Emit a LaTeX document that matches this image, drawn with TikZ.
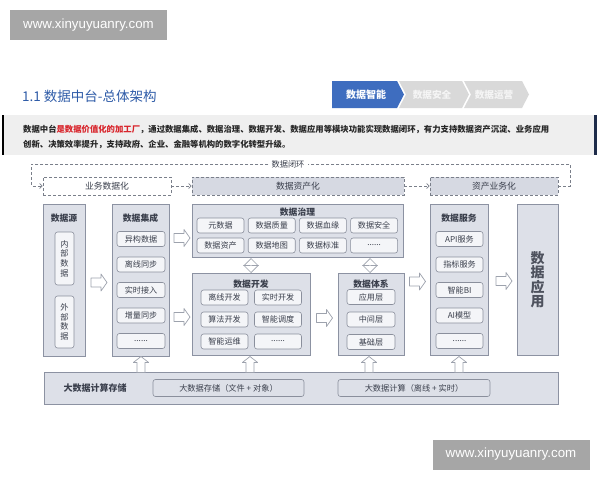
\documentclass[tikz,border=0pt]{standalone}
\usepackage{fontspec}
\setmainfont{Noto Sans CJK SC}
\newfontfamily\wmfont{Liberation Sans}
\usetikzlibrary{shapes.arrows,fit,calc,arrows.meta}

\definecolor{panelfill}{HTML}{DDE0E8}
\definecolor{headfill}{HTML}{D6D9E2}
\definecolor{panelline}{HTML}{8C92A2}
\definecolor{itemfill}{HTML}{F4F5F8}
\definecolor{itemline}{HTML}{8A8F9C}
\definecolor{textgray}{HTML}{3A3F4C}
\definecolor{dashgray}{HTML}{7A7F8A}
\definecolor{arrowline}{HTML}{9DA2AD}
\definecolor{wmgray}{HTML}{A6A6A6}
\definecolor{chevblue}{HTML}{3E6DBF}
\definecolor{chevgray}{HTML}{D9D9D9}
\definecolor{titleblue}{HTML}{2F5CA8}
\definecolor{descbg}{HTML}{EFEFEF}
\definecolor{navybar}{HTML}{1E2C4A}
\definecolor{redtext}{HTML}{D8232A}

\newcommand{\moredots}{......}

\begin{document}
\begin{tikzpicture}[
        x=1pt, y=-1pt,
        >={Straight Barb[length=2.5pt,width=5pt]},
        panel/.style={draw=panelline, fill=panelfill, line width=0.8pt, inner sep=0pt},
        headbox/.style={draw=dashgray, line width=0.8pt, dash pattern=on 3pt off 2pt, inner sep=0pt},
        loopline/.style={draw=dashgray, line width=0.7pt, dash pattern=on 3pt off 2pt},
        item/.style={draw=itemline, fill=itemfill, rounded corners=2.5pt, line width=0.6pt,
            minimum width=47pt, minimum height=15pt, inner sep=0pt,
            font=\fontsize{8.1}{9}\selectfont, text=textgray},
        ptitle/.style={font=\fontsize{8.8}{10}\selectfont\bfseries, text=textgray, inner sep=0pt},
        htitle/.style={font=\fontsize{8.8}{10}\selectfont, text=textgray, inner sep=0pt},
        fatarr/.pic={
            \draw[arrowline, fill=white, line width=0.7pt, line join=round]
                (-8,-4.5) -- (2,-4.5) -- (2,-8.5) -- (8,0) -- (2,8.5) -- (2,4.5) -- (-8,4.5) -- cycle;
        },
        updown/.style={double arrow, draw=arrowline, fill=white, line width=0.7pt,
            shape border rotate=90, minimum height=14pt, minimum width=14pt,
            double arrow head extend=3pt, inner sep=0pt},
        wmbox/.style={fill=wmgray, text=white, minimum width=157pt, minimum height=30pt,
            inner sep=0pt, font=\wmfont\fontsize{13.3}{15}\selectfont},
    ]

    \fill[white] (0,0) rectangle (600,480);
    \useasboundingbox (0,0) rectangle (600,480);

    % header
    \node[wmbox] (wmtop) at (88.5,25) {www.xinyuyuanry.com};
    \node[anchor=west, inner sep=0pt, text=titleblue, font=\fontsize{13.5}{15}\selectfont]
        (title) at (22,96) {1.1 数据中台-总体架构};

    \fill[chevblue] (332,81) -- (397,81) -- (404,94.5) -- (397,108) -- (332,108) -- cycle;
    \fill[chevgray] (399,81) -- (462,81) -- (469,94.5) -- (462,108) -- (399,108) -- (406,94.5) -- cycle;
    \fill[chevgray] (464,81) -- (522,81) -- (529,94.5) -- (522,108) -- (464,108) -- (471,94.5) -- cycle;
    \node[text=white, font=\fontsize{10}{12}\selectfont\bfseries] (chev1) at (366,94.5) {数据智能};
    \node[text=white!96!black, font=\fontsize{9.6}{12}\selectfont\bfseries] (chev2) at (432,94.5) {数据安全};
    \node[text=white!96!black, font=\fontsize{9.6}{12}\selectfont\bfseries] (chev3) at (494,94.5) {数据运营};

    \fill[descbg] (3,115) rectangle (594,155);
    \fill[black] (2,115) rectangle (4,155);
    \fill[navybar] (594,115) rectangle (597,155);
    \node[anchor=west, inner sep=0pt, font=\fontsize{8.35}{10}\selectfont\bfseries, text=black!85]
        (desc1) at (23,129) {数据中台\textcolor{redtext}{是数据价值化的加工厂}，通过数据集成、数据治理、数据开发、数据应用等模块功能实现数据闭环，有力支持数据资产沉淀、业务应用};
    \node[anchor=west, inner sep=0pt, font=\fontsize{8.35}{10}\selectfont\bfseries, text=black!85]
        (desc2) at (23,145) {创新、决策效率提升，支持政府、企业、金融等机构的数字化转型升级。};

    % stage headers and loop
    \node[headbox, fill=white, fit={(43,177) (171,195)}] (bizdata) {};
    \node[headbox, fill=headfill, fit={(192,177) (404,195)}] (assetize) {};
    \node[headbox, fill=headfill, fit={(430,177) (558,195)}] (assetbiz) {};
    \node[htitle] at (bizdata.center) {业务数据化};
    \node[htitle] at (assetize.center) {数据资产化};
    \node[htitle] at (assetbiz.center) {资产业务化};
    \draw[loopline, ->] (bizdata.east) -- (assetize.west);
    \draw[loopline, ->] (assetize.east) -- (assetbiz.west);

    \node[inner sep=3pt, text=textgray, font=\fontsize{8.2}{9}\selectfont] (loop) at (288,164) {数据闭环};
    \draw[loopline, ->] (loop.west) -| ($(bizdata.west)+(-11,0)$) -- (bizdata.west);
    \draw[loopline] (assetbiz.east) -- ++(12,0) |- (loop.east);

    % columns
    \node[panel, fit={(43,204) (85,356)}] (src) {};
    \node[panel, fit={(112,204) (169,356)}] (integ) {};
    \node[panel, fit={(192,204) (403,257)}] (gov) {};
    \node[panel, fit={(192,273) (310,355)}] (dev) {};
    \node[panel, fit={(338,273) (404,355)}] (sys) {};
    \node[panel, fit={(430,204) (488,355)}] (svc) {};
    \node[panel, fit={(517,204) (558,355)}] (app) {};

    \node[ptitle] (srct) at (64,218) {数据源};
    \node[ptitle] (integt) at (140.5,218) {数据集成};
    \node[ptitle] (govt) at (297.5,212) {数据治理};
    \node[ptitle] (devt) at (251,284) {数据开发};
    \node[ptitle] (syst) at (371,284) {数据体系};
    \node[ptitle] (svct) at (459,218) {数据服务};
    \node[align=center, inner sep=0pt, text=textgray!90, font=\fontsize{14}{14.5}\selectfont\bfseries]
        (appt) at (app.center) {数\\据\\应\\用};

    \node[item, minimum width=19pt, minimum height=53pt, align=center, font=\fontsize{8.2}{9.6}\selectfont]
        (inner) at (64.5,258.5) {内\\部\\数\\据};
    \node[item, minimum width=19pt, minimum height=52pt, align=center, font=\fontsize{8.2}{9.6}\selectfont]
        (outer) at (64.5,322) {外\\部\\数\\据};

    \foreach \t [count=\i from 0] in {异构数据,离线同步,实时接入,增量同步,\moredots}
        \node[item, minimum width=48pt] (integ-\i) at (141,239+25.5*\i) {\t};

    \foreach \t [count=\i from 0] in {元数据,数据质量,数据血缘,数据安全}
        \node[item] (gov-a\i) at (220.5+51.2*\i,225.5) {\t};
    \foreach \t [count=\i from 0] in {数据资产,数据地图,数据标准,\moredots}
        \node[item] (gov-b\i) at (220.5+51.2*\i,245.5) {\t};

    \foreach \ta/\tb [count=\i from 0] in {离线开发/实时开发, 算法开发/智能调度, 智能运维/\moredots} {
        \node[item] (dev-a\i) at (224.5,297.5+22*\i) {\ta};
        \node[item] (dev-b\i) at (278,297.5+22*\i) {\tb};
    }

    \foreach \t [count=\i from 0] in {应用层,中间层,基础层}
        \node[item, minimum width=48pt] (sys-\i) at (371,297+22.5*\i) {\t};

    \foreach \t [count=\i from 0] in {API服务,指标服务,智能BI,AI模型,\moredots}
        \node[item] (svc-\i) at (459.5,239+25.5*\i) {\t};

    % flow arrows
    \pic (fa1) at (99,282.5) {fatarr};
    \pic (fa2) at (182,238) {fatarr};
    \pic (fa3) at (182,317) {fatarr};
    \pic (fa4) at (324.5,318) {fatarr};
    \pic (fa5) at (417.5,281.5) {fatarr};
    \pic (fa6) at (504,281) {fatarr};
    \node[updown] (ud1) at (251,265.5) {};
    \node[updown] (ud2) at (370,265.5) {};

    % base layer
    \node[panel, fit={(44,372) (558,404)}] (base) {};
    \node[ptitle, font=\fontsize{9}{10}\selectfont\bfseries] (baset) at (95,388) {大数据计算存储};
    \node[item, fill=panelfill, minimum width=151pt, minimum height=17pt, font=\fontsize{8.2}{9}\selectfont]
        (store) at (228.5,388) {大数据存储（文件 + 对象）};
    \node[item, fill=panelfill, minimum width=152pt, minimum height=17pt, font=\fontsize{8.2}{9}\selectfont]
        (compute) at (414,388) {大数据计算（离线 + 实时）};

    \foreach \x in {141, 250, 369, 459}
        \pic[rotate=90, yscale=0.9] (up-\x) at (\x,364.5) {fatarr};

    \node[wmbox] (wmbot) at (511,454.5) {www.xinyuyuanry.com};

\end{tikzpicture}
\end{document}
